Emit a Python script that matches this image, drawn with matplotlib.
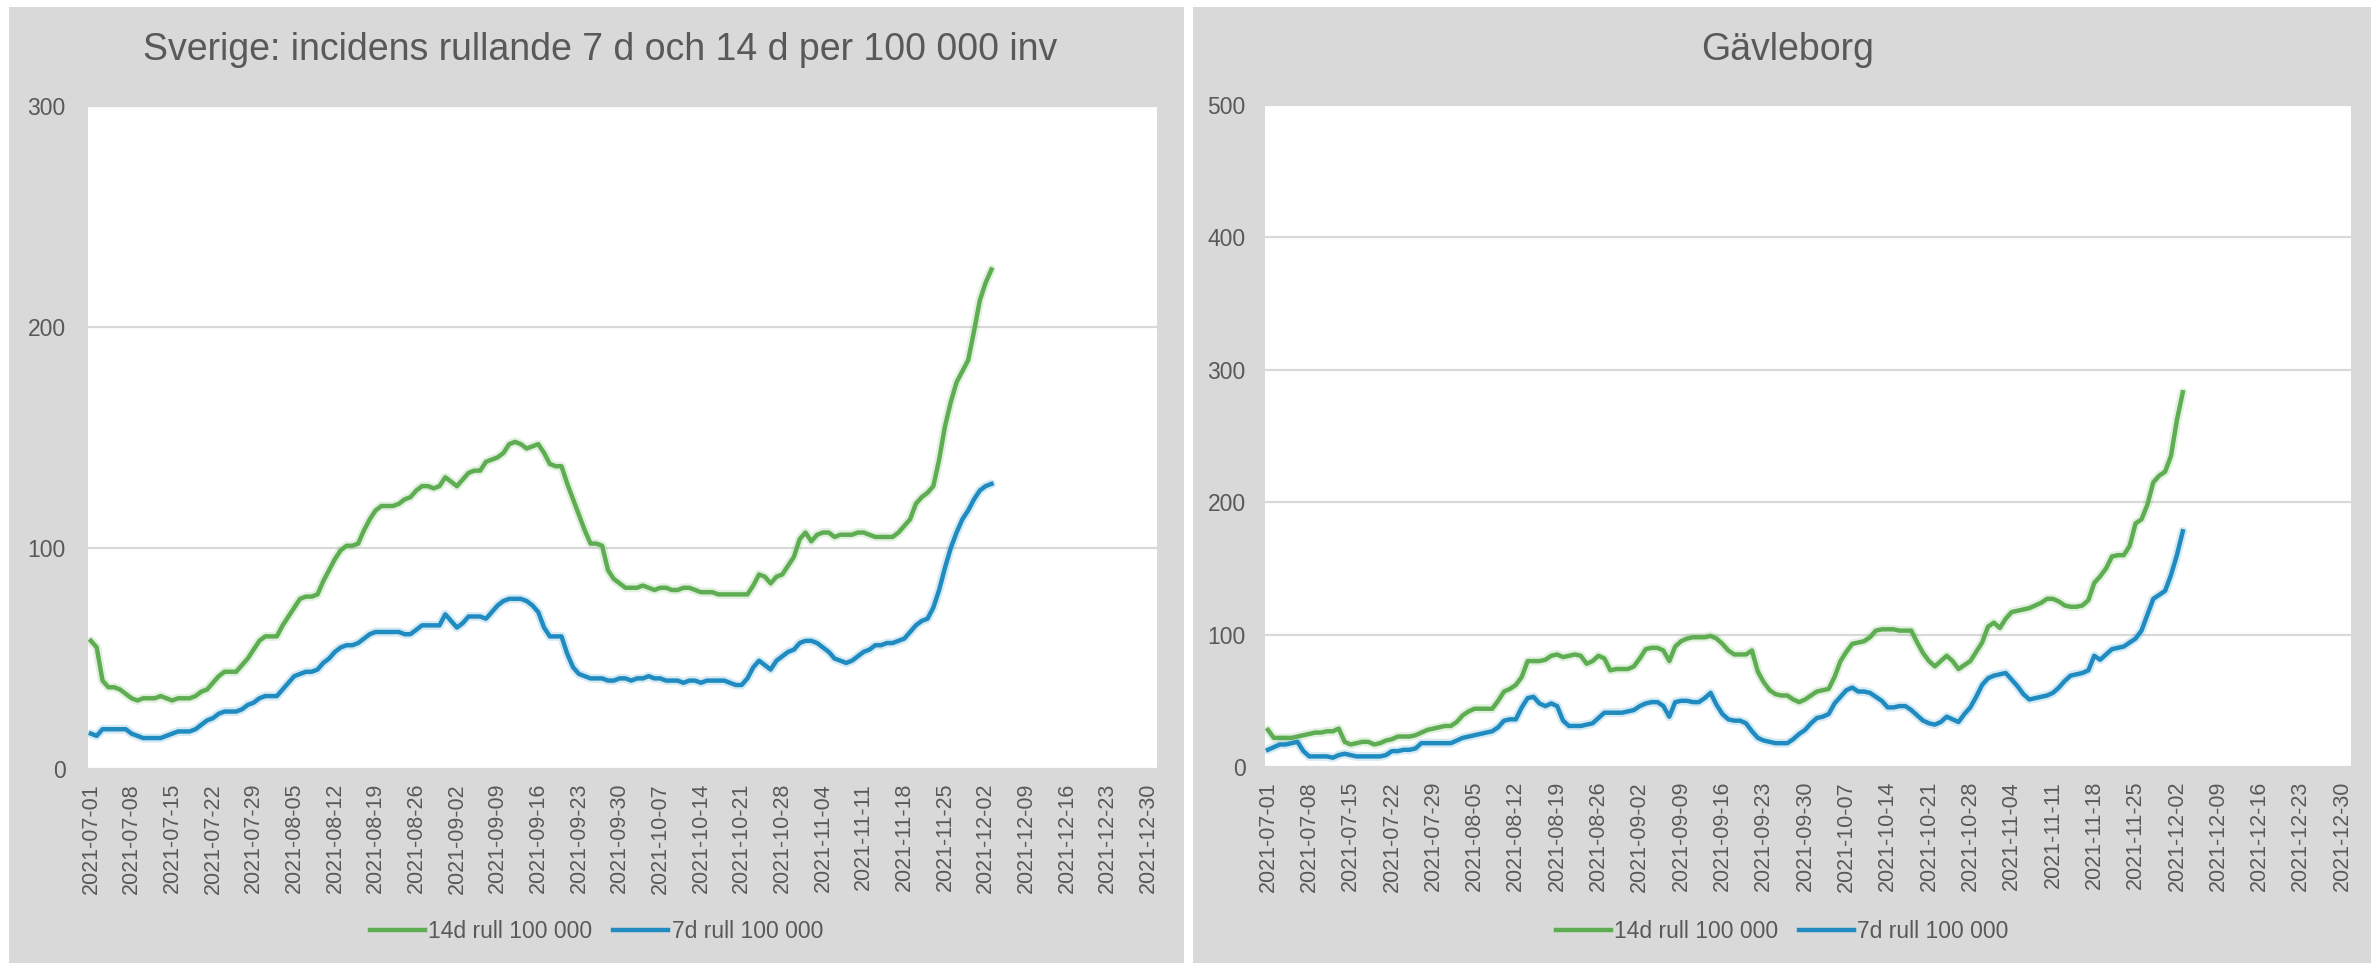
import numpy as np
import pandas as pd
import matplotlib
matplotlib.use("Agg")
import matplotlib.pyplot as plt
from matplotlib.patches import Rectangle

plt.rcParams['font.family'] = ['Liberation Sans', 'DejaVu Sans']

# ---------------- data ----------------
start_date = "2021-07-01"
n_categories = 184  # 2021-07-01 .. 2021-12-31
tick_step = 7

titles = ["Sverige: incidens rullande 7 d och 14 d per 100 000 inv", "Gävleborg"]
series_names = ["14d rull 100 000", "7d rull 100 000"]
y_max = [300, 500]

se_14d = [58, 55, 40, 37, 37, 36, 34, 32, 31, 32, 32, 32, 33, 32, 31, 32, 32, 32, 33, 35,
          36, 39, 42, 44, 44, 44, 47, 50, 54, 58, 60, 60, 60, 65, 69, 73, 77, 78, 78, 79,
          85, 90, 95, 99, 101, 101, 102, 108, 113, 117, 119, 119, 119, 120, 122, 123, 126, 128, 128, 127,
          128, 132, 130, 128, 131, 134, 135, 135, 139, 140, 141, 143, 147, 148, 147, 145, 146, 147, 143, 138,
          137, 137, 129, 122, 115, 108, 102, 102, 101, 90, 86, 84, 82, 82, 82, 83, 82, 81, 82, 82,
          81, 81, 82, 82, 81, 80, 80, 80, 79, 79, 79, 79, 79, 79, 83, 88, 87, 84, 87, 88,
          92, 96, 104, 107, 103, 106, 107, 107, 105, 106, 106, 106, 107, 107, 106, 105, 105, 105, 105, 107,
          110, 113, 120, 123, 125, 128, 140, 155, 166, 175, 180, 185, 198, 212, 220, 226]

se_7d = [16, 15, 18, 18, 18, 18, 18, 16, 15, 14, 14, 14, 14, 15, 16, 17, 17, 17, 18, 20,
         22, 23, 25, 26, 26, 26, 27, 29, 30, 32, 33, 33, 33, 36, 39, 42, 43, 44, 44, 45,
         48, 50, 53, 55, 56, 56, 57, 59, 61, 62, 62, 62, 62, 62, 61, 61, 63, 65, 65, 65,
         65, 70, 67, 64, 66, 69, 69, 69, 68, 71, 74, 76, 77, 77, 77, 76, 74, 71, 64, 60,
         60, 60, 52, 46, 43, 42, 41, 41, 41, 40, 40, 41, 41, 40, 41, 41, 42, 41, 41, 40,
         40, 40, 39, 40, 40, 39, 40, 40, 40, 40, 39, 38, 38, 41, 46, 49, 47, 45, 49, 51,
         53, 54, 57, 58, 58, 57, 55, 53, 50, 49, 48, 49, 51, 53, 54, 56, 56, 57, 57, 58,
         59, 62, 65, 67, 68, 73, 81, 91, 100, 107, 113, 117, 122, 126, 128, 129]

gb_14d = [28, 22, 22, 22, 22, 23, 24, 25, 26, 26, 27, 27, 29, 19, 17, 18, 19, 19, 17, 18,
          20, 21, 23, 23, 23, 24, 26, 28, 29, 30, 31, 31, 34, 39, 42, 44, 44, 44, 44, 50,
          57, 59, 62, 68, 80, 80, 80, 81, 84, 85, 83, 84, 85, 84, 78, 80, 84, 82, 73, 74,
          74, 74, 76, 82, 89, 90, 90, 88, 80, 91, 95, 97, 98, 98, 98, 99, 97, 93, 88, 85,
          85, 85, 88, 72, 64, 58, 55, 54, 54, 51, 49, 51, 54, 57, 58, 59, 68, 80, 87, 93,
          94, 95, 98, 103, 104, 104, 104, 103, 103, 103, 94, 86, 80, 76, 80, 84, 80, 74, 77, 80,
          87, 94, 106, 109, 105, 112, 117, 118, 119, 120, 122, 124, 127, 127, 125, 122, 121, 121, 122, 126,
          139, 144, 150, 159, 160, 160, 167, 184, 187, 198, 215, 220, 223, 235, 262, 283]

gb_7d = [13, 15, 17, 17, 18, 19, 12, 8, 8, 8, 8, 7, 9, 10, 9, 8, 8, 8, 8, 8,
         9, 12, 12, 13, 13, 14, 18, 18, 18, 18, 18, 18, 20, 22, 23, 24, 25, 26, 27, 30,
         35, 36, 36, 45, 52, 53, 48, 46, 48, 46, 35, 31, 31, 31, 32, 33, 37, 41, 41, 41,
         41, 42, 43, 46, 48, 49, 49, 46, 38, 49, 50, 50, 49, 49, 52, 56, 47, 40, 36, 35,
         35, 33, 27, 22, 20, 19, 18, 18, 18, 21, 25, 28, 33, 37, 38, 40, 48, 53, 58, 60,
         57, 57, 56, 53, 50, 45, 45, 46, 46, 43, 39, 35, 33, 32, 34, 38, 36, 34, 40, 45,
         53, 62, 67, 69, 70, 71, 66, 61, 55, 51, 52, 53, 54, 56, 60, 65, 69, 70, 71, 73,
         84, 81, 85, 89, 90, 91, 94, 97, 103, 115, 127, 130, 133, 145, 160, 178]

panels = [(se_14d, se_7d), (gb_14d, gb_7d)]

# ---------------- styling ----------------
GREEN = '#5FAD52'
BLUE = '#1F8BC0'
PANEL_BG = '#D9D9D9'
TEXT = '#595959'
GRID = '#D9D9D9'

W, H = 2371, 966
fig = plt.figure(figsize=(W / 100, H / 100), dpi=100)
fig.patch.set_facecolor('white')

# panel backgrounds (pixel boxes: x0, x1, y0(top), y1(bottom))
panel_boxes = [(9, 1184, 7, 963), (1193, 2371, 7, 963)]
axes_boxes = [(88, 1157, 106, 769), (1265, 2351, 105, 767)]

bg = fig.add_axes([0, 0, 1, 1], zorder=-10)
bg.set_xlim(0, W)
bg.set_ylim(H, 0)
bg.axis('off')
for (x0, x1, y0, y1) in panel_boxes:
    bg.add_patch(Rectangle((x0, y0), x1 - x0, y1 - y0, facecolor=PANEL_BG, edgecolor='none'))

dates = pd.date_range(start_date, periods=n_categories, freq='D')
tick_pos = np.arange(0, n_categories, tick_step)
tick_lab = [dates[i].strftime('%Y-%m-%d') for i in tick_pos]

for k in range(2):
    x0, x1, y0, y1 = axes_boxes[k]
    ax = fig.add_axes([x0 / W, 1 - y1 / H, (x1 - x0) / W, (y1 - y0) / H], zorder=1)
    ax.set_facecolor('white')
    s14, s7 = panels[k]
    xs14 = np.arange(len(s14))
    xs7 = np.arange(len(s7))
    # soft glow
    ax.plot(xs14, s14, color=GREEN, lw=6.5, alpha=0.18, solid_capstyle='round', zorder=2)
    ax.plot(xs7, s7, color=BLUE, lw=6.5, alpha=0.18, solid_capstyle='round', zorder=2)
    l1, = ax.plot(xs14, s14, color=GREEN, lw=3.2, label=series_names[0], zorder=3)
    l2, = ax.plot(xs7, s7, color=BLUE, lw=3.2, label=series_names[1], zorder=3)
    ax.set_xlim(-0.5, n_categories - 0.5)
    ax.set_ylim(0, y_max[k])
    ax.set_yticks(np.arange(0, y_max[k] + 1, 100))
    ax.grid(axis='y', color=GRID, lw=1.6, zorder=1)
    ax.set_axisbelow(True)
    for sp in ax.spines.values():
        sp.set_visible(False)
    ax.set_xticks(tick_pos)
    ax.set_xticklabels(tick_lab, rotation=90, fontsize=15.5, color=TEXT)
    ax.tick_params(axis='x', length=0, pad=10)
    ax.tick_params(axis='y', length=0, pad=16 if k == 0 else 14, labelsize=16.5, labelcolor=TEXT)

    px0, px1 = panel_boxes[k][0], panel_boxes[k][1]
    cx = (px0 + px1) / 2 / W
    title_x = (600 if k == 0 else 1788) / W
    fig.text(title_x, 1 - 50 / H, titles[k], ha='center', va='center', fontsize=27, color=TEXT)
    fig.legend(handles=[l1, l2], labels=series_names, loc='center',
               bbox_to_anchor=(cx, 1 - 932 / H), ncol=2, frameon=False,
               fontsize=16.5, labelcolor=TEXT, handlelength=2.4, handletextpad=0.15,
               columnspacing=0.9)

fig.savefig('out.png', dpi=100, facecolor='white')
